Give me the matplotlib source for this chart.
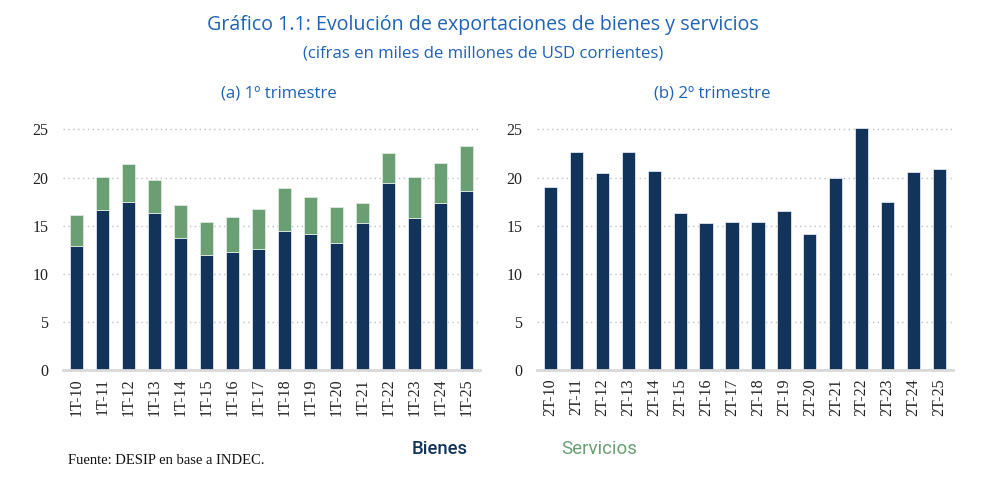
import matplotlib
matplotlib.use("Agg")
import matplotlib.pyplot as plt
import numpy as np

# ---- data ----
cats_q1 = ["1T-10", "1T-11", "1T-12", "1T-13", "1T-14", "1T-15", "1T-16", "1T-17",
           "1T-18", "1T-19", "1T-20", "1T-21", "1T-22", "1T-23", "1T-24", "1T-25"]
bienes_q1 = [12.9, 16.6, 17.5, 16.3, 13.7, 11.9, 12.3, 12.6,
             14.4, 14.1, 13.2, 15.3, 19.4, 15.8, 17.3, 18.6]
total_q1 = [16.1, 20.1, 21.4, 19.7, 17.1, 15.4, 15.9, 16.7,
            18.9, 18.0, 16.9, 17.3, 22.5, 20.1, 21.5, 23.3]
servicios_q1 = [round(t - b, 2) for t, b in zip(total_q1, bienes_q1)]

cats_q2 = ["2T-10", "2T-11", "2T-12", "2T-13", "2T-14", "2T-15", "2T-16", "2T-17",
           "2T-18", "2T-19", "2T-20", "2T-21", "2T-22", "2T-23", "2T-24", "2T-25"]
bienes_q2 = [19.0, 22.7, 20.5, 22.7, 20.7, 16.3, 15.3, 15.4,
             15.4, 16.5, 14.1, 19.9, 25.1, 17.5, 20.6, 20.9]

yticks = [0, 5, 10, 15, 20, 25]

NAVY = "#12345a"
GREEN = "#6a9f74"
BLUE = "#1f63b5"

fig = plt.figure(figsize=(10, 4.88), dpi=100)

ax1 = fig.add_axes([0.063, 0.2418, 0.417, 0.499])
ax2 = fig.add_axes([0.537, 0.2418, 0.416, 0.499])

def style(ax, cats):
    ax.set_ylim(0, 25.3)
    ax.set_xlim(-0.52, len(cats) - 0.48)
    ax.set_yticks(yticks)
    ax.set_yticklabels([str(v) for v in yticks], family="Liberation Serif", fontsize=11.5, color="#222222")
    ax.set_xticks(range(len(cats)))
    ax.set_xticklabels(cats, rotation=90, family="Liberation Serif", fontsize=11.5, color="#222222")
    ax.tick_params(axis="both", length=0)
    ax.tick_params(axis="y", pad=10.5)
    ax.tick_params(axis="x", pad=6)
    for s in ["left", "right", "top"]:
        ax.spines[s].set_visible(False)
    ax.spines["bottom"].set_color("#d9d9d9")
    ax.spines["bottom"].set_linewidth(2)
    ax.grid(axis="y", linestyle=(0, (1, 2.5)), color="#bfbfbf", linewidth=1)
    ax.set_axisbelow(True)

x1 = np.arange(len(cats_q1))
ax1.bar(x1, bienes_q1, width=0.51, color=NAVY, edgecolor="#dfe6ee", linewidth=0.6)
ax1.bar(x1, servicios_q1, bottom=bienes_q1, width=0.51, color=GREEN, edgecolor="#dfe9e0", linewidth=0.6)
style(ax1, cats_q1)

x2 = np.arange(len(cats_q2))
ax2.bar(x2, bienes_q2, width=0.51, color=NAVY, edgecolor="#dfe6ee", linewidth=0.6)
style(ax2, cats_q2)

fig.text(0.483, 1 - 25 / 488, "Gráfico 1.1: Evolución de exportaciones de bienes y servicios",
         ha="center", va="center", color=BLUE, fontsize=14.1, family="Open Sans", fontweight="medium")
fig.text(0.4835, 1 - 53 / 488, "(cifras en miles de millones de USD corrientes)",
         ha="center", va="center", color=BLUE, fontsize=12.1, family="Open Sans", fontweight="medium")
fig.text(0.279, 1 - 94 / 488, "(a) 1º trimestre",
         ha="center", va="center", color=BLUE, fontsize=12.1, family="Open Sans", fontweight="medium")
fig.text(0.7125, 1 - 94 / 488, "(b) 2º trimestre",
         ha="center", va="center", color=BLUE, fontsize=12.1, family="Open Sans", fontweight="medium")

fig.text(0.412, 1 - 449 / 488, "Bienes", ha="left", va="center", color=NAVY,
         fontsize=13.3, family="Roboto", fontweight="medium")
fig.text(0.561, 1 - 449 / 488, "Servicios", ha="left", va="center", color=GREEN,
         fontsize=13.5, family="Roboto")
fig.text(0.068, 1 - 460 / 488, "Fuente: DESIP en base a INDEC.", ha="left", va="center",
         color="#111111", fontsize=10.5, family="Liberation Serif")

fig.savefig("out.png", dpi=100, facecolor="white")
